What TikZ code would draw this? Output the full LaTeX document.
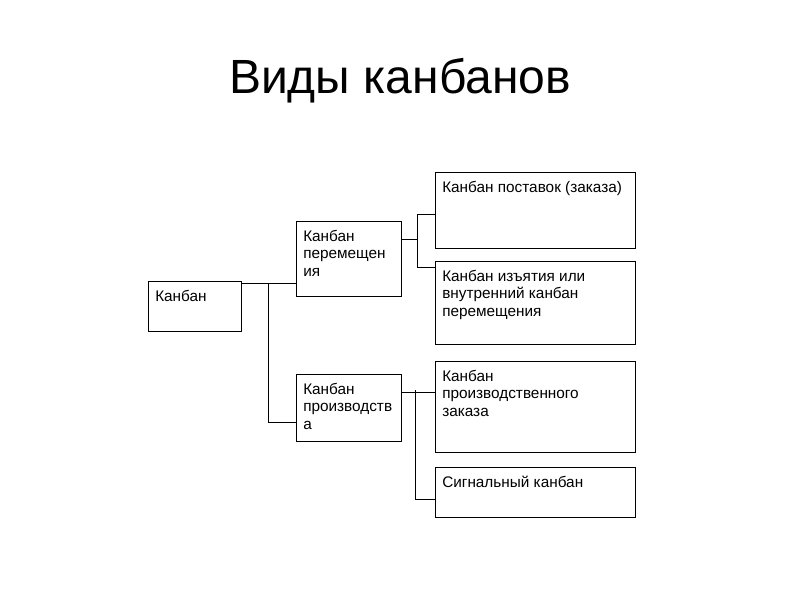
\documentclass[tikz,border=0pt]{standalone}
\usepackage{fontspec}
\setmainfont{Liberation Sans}
\usepackage{tikz}
\usetikzlibrary{calc}

\begin{document}
\begin{tikzpicture}[x=0.75pt, y=-0.75pt,
    box/.style={draw, line width=0.75pt, rectangle, inner sep=0pt, outer sep=0pt, anchor=north west},
    lbl/.style={anchor=north west, inner sep=0pt, align=left, xshift=5.25pt, yshift=-6.75pt,
      font=\fontsize{11.5pt}{13.1pt}\selectfont},
    conn/.style={line width=0.75pt}]
  \useasboundingbox (0,0) rectangle (800,600);
  % Titre
  \node[font=\fontsize{36pt}{43pt}\selectfont] (titre) at (400,81) {Виды канбанов};
  % Boîtes
  \node[box, minimum width=69.75pt, minimum height=37.5pt,
    label={[lbl]north west:Канбан}] (kanban) at (148,281) {};
  \node[box, minimum width=78.75pt, minimum height=56.25pt,
    label={[lbl]north west:{Канбан\\перемещен\\ия}}] (move) at (296,221) {};
  \node[box, minimum width=78.75pt, minimum height=50.25pt,
    label={[lbl]north west:{Канбан\\производств\\а}}] (prod) at (296,374) {};
  \node[box, minimum width=150pt, minimum height=57pt,
    label={[lbl]north west:{Канбан поставок (заказа)}}] (supply) at (435,172) {};
  \node[box, minimum width=150pt, minimum height=62.25pt,
    label={[lbl]north west:{Канбан изъятия или\\внутренний канбан\\перемещения}}] (withdraw) at (435,261) {};
  \node[box, minimum width=150pt, minimum height=68.25pt,
    label={[lbl]north west:{Канбан\\производственного\\заказа}}] (order) at (435,361) {};
  \node[box, minimum width=150pt, minimum height=37.5pt,
    label={[lbl]north west:{Сигнальный канбан}}] (signal) at (435,467) {};
  % Points de branchement
  \coordinate (jk) at (268,283);
  \coordinate (jm) at (417,239);
  \coordinate (jp) at (415,392);
  % Liaisons
  \draw[conn] (kanban.east |- jk) -- (move.west |- jk);
  \draw[conn] (jk) |- (prod.west |- 0,422);
  \draw[conn] (move.east |- jm) -- (jm);
  \draw[conn] (supply.west |- 0,214) -| (jm |- 0,267) -- (withdraw.west |- 0,267);
  \draw[conn] (prod.east |- jp) -- (order.west |- jp);
  \draw[conn] (jp |- 0,390) |- (signal.west |- 0,499);
\end{tikzpicture}
\end{document}
